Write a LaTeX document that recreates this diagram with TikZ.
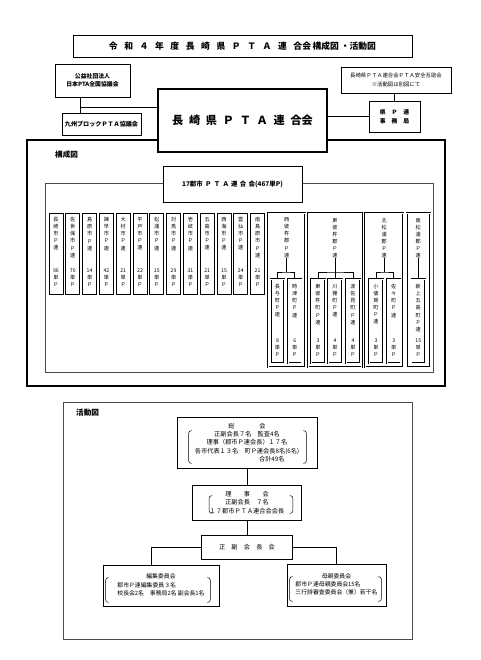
\documentclass[tikz,border=0pt]{standalone}
\usepackage{fontspec}
\setmainfont{Noto Sans CJK JP}
\usetikzlibrary{positioning}

\begin{document}
\begin{tikzpicture}[x=0.3mm,y=-0.3mm,
  box/.style={draw,line width=0.5pt,inner sep=0pt,align=center,font=\fontsize{5.3}{7}\selectfont},
  col/.style={draw,line width=0.6pt,inner sep=0pt,minimum width=4.2mm,minimum height=24.3mm,anchor=north},
  gun/.style={draw,double,double distance=0.5pt,line width=0.55pt,inner sep=0pt,anchor=north},
  vtxt/.style={inner sep=0pt,align=center,font=\fontsize{4.4}{6}\selectfont},
  midashi/.style={inner sep=0pt,anchor=west,font=\fontsize{6.5}{8}\selectfont\bfseries},
  line/.style={line width=0.7pt},
  brk/.style={line width=0.4pt,rounded corners=2pt}]
\useasboundingbox (0,0) rectangle (480,660);

% frames first, boxes lie on top of them
\draw[line width=1.6pt] (27,140) rectangle (445,386);
\draw[line width=0.5pt,black!70] (45,183) rectangle (433,372);
\draw[line width=0.5pt,black!70] (63,402) rectangle (412,639);
\node[midashi] (kz) at (55,155) {構成図};
\node[midashi] (kd) at (76,413) {活動図};

% title and top part
\node[draw,line width=0.6pt,minimum width=101.7mm,minimum height=6.6mm,inner sep=0pt,font=\fontsize{7.5}{9}\selectfont\bfseries] (ttl) at (242.5,46)
  {{\addfontfeature{LetterSpace=75}令和４年度長崎県ＰＴＡ連合}会\,構成図\ ・活動図};
\node[box,minimum width=22.5mm,minimum height=9.9mm,font=\fontsize{5}{6.8}\selectfont\bfseries] (jp) at (92.5,80.5) {公益社団法人\\日本PTA全国協議会};
\node[box,minimum width=23.7mm,minimum height=6.6mm,font=\fontsize{5.2}{7}\selectfont\bfseries] (ky) at (101.5,124) {九州ブロックＰＴＡ協議会};
\node[box,fill=white,line width=0.9pt,minimum width=50.7mm,minimum height=18.9mm,font=\fontsize{9.5}{11}\selectfont\bfseries] (mn) at (242.5,120.5)
  {{\addfontfeature{LetterSpace=52}長崎県ＰＴＡ連合}会};
\node[box,minimum width=33mm,minimum height=7.8mm,font=\fontsize{4.6}{7}\selectfont] (az) at (396,80) {長崎県ＰＴＡ連合会ＰＴＡ安全互助会\\※活動図は別図にて};
\node[box,minimum width=15.3mm,minimum height=9.3mm,font=\fontsize{5}{7.6}\selectfont\bfseries] (jm) at (394.5,116.5) {県　Ｐ　連\\事　務　局};
\coordinate (jn) at (80,107);
\draw[line] (jp.south -| jn) -- (ky.north -| jn);
\draw[line] (jn) -- (jn -| mn.west);
\draw[line] (az.south -| jm.north) -- (jm.north);
\draw[line] (jm.west) -- (jm.west -| mn.east);

% 構成図
\node[box,fill=white,minimum width=41.7mm,minimum height=10.8mm,font=\fontsize{5.5}{7}\selectfont\bfseries] (zg) at (232.5,184)
  {17郡{\addfontfeature{LetterSpace=35}市ＰＴＡ連合会}(467単P)};
\foreach \nm/\num [count=\i from 0] in {長\\崎/96,佐\\世\\保/70,島\\原/14,諫\\早/42,大\\村/21,平\\戸/22,松\\浦/15,対\\馬/29,壱\\岐/31,五\\島/21,西\\海/15,雲\\仙/24,南\\島\\原/21}{
  \node[col] (c\i) at ({56+16.8*\i},213) {};
  \node[vtxt,below=1.3mm of c\i.north] (n\i) {\nm\\市\\Ｐ\\連};
  \node[vtxt,above=2.4mm of c\i.south] (k\i) {\num\\単\\Ｐ};
}
\node[gun,minimum width=11mm,minimum height=46.2mm] (g1) at (286.7,213) {};
\node[gun,minimum width=16mm,minimum height=46.2mm] (g2) at (335,213) {};
\node[gun,minimum width=11.5mm,minimum height=46.2mm] (g3) at (384.2,213) {};
\node[gun,minimum width=7mm,minimum height=46.2mm] (g4) at (418.3,213) {};
\node[vtxt,below=1.4mm of g1.north] (l1) {西\\彼\\杵\\郡\\Ｐ\\連};
\node[vtxt,below=1.4mm of g2.north] (l2) {東\\彼\\杵\\郡\\Ｐ\\連};
\node[vtxt,below=1.4mm of g3.north] (l3) {北\\松\\浦\\郡\\Ｐ\\連};
\node[vtxt,below=1.4mm of g4.north] (l4) {南\\松\\浦\\郡\\Ｐ\\連};
\foreach \nm/\num/\x [count=\i] in {長\\与/8/277.5,時\\津/6/294.7,東\\彼\\杵/3/318,川\\棚/4/335,波\\佐\\見/4/353,小\\値\\賀/3/376,佐\\々/3/393.7,新\\上\\五\\島/15/418.3}{
  \node[gun,minimum width=4.1mm,minimum height=25.2mm] (t\i) at (\x,279) {};
  \node[vtxt,below=1.6mm of t\i.north] (tn\i) {\nm\\町\\Ｐ\\連};
  \node[vtxt,above=2.2mm of t\i.south] (tk\i) {\num\\単\\Ｐ};
}
\coordinate (j1) at (286.7,272);
\coordinate (j2) at (335,272);
\coordinate (j3) at (384.2,272);
\draw[line] (l1.south) -- (j1);
\draw[line] (t1.north) |- (j1) -| (t2.north);
\draw[line] (l2.south) -- (j2);
\draw[line] (t3.north) |- (j2) -| (t5.north);
\draw[line] (j2) -- (t4.north);
\draw[line] (l3.south) -- (j3);
\draw[line] (t6.north) |- (j3) -| (t7.north);
\draw[line] (l4.south) -- (t8.north);

% 活動図
\node[box,minimum width=42mm,minimum height=15.3mm] (sk) at (247,442.5)
  {総　　　　会\\正副会長７名　監査4名\\理事（郡市Ｐ連会長）１７名\\各市代表１３名　町Ｐ連会長8名(6名)\\\hspace*{8em}合計49名};
\node[box,minimum width=32.7mm,minimum height=10.5mm] (rj) at (247,502.5) {理　　事　　会\\正副会長　７名\\１７郡市ＰＴＡ連合会会長};
\node[box,minimum width=27.3mm,minimum height=7.2mm] (sf) at (247,547) {正　副　会　長　会};
\node[box,minimum width=34.8mm,minimum height=12.3mm,font=\fontsize{5}{7}\selectfont] (hs) at (161,585.5)
  {\begin{tabular}{@{}l@{}}\multicolumn{1}{@{}c@{}}{編集委員会}\\郡市Ｐ連編集委員３名\\校長会2名　事務局2名 副会長1名\end{tabular}};
\node[box,minimum width=29.7mm,minimum height=12.6mm,font=\fontsize{5}{7}\selectfont] (hh) at (336.5,585)
  {\begin{tabular}{@{}l@{}}\multicolumn{1}{@{}c@{}}{母親委員会}\\郡市Ｐ連母親委員会15名\\三行詩審査委員会（兼）若干名\end{tabular}};
\draw[line] (sk) -- (rj);
\draw[line] (rj) -- (sf);
\draw[line] (sf.west) -| ([xshift=-3mm]hs.north);
\draw[line] (sf.east) -| (hh.north);
\draw[brk] ([shift={(15,14)}]sk.north west) -| ([shift={(12,-5)}]sk.south west) -- ++(3,0);
\draw[brk] ([shift={(-14,14)}]sk.north east) -| ([shift={(-11,-5)}]sk.south east) -- ++(-3,0);
\draw[brk] ([shift={(20,11)}]rj.north west) -| ([shift={(17,-7)}]rj.south west) -- ++(3,0);
\draw[brk] ([shift={(-12,11)}]rj.north east) -| ([shift={(-9,-7)}]rj.south east) -- ++(-3,0);
\draw[brk] ([shift={(6,13)}]hs.north west) -| ([shift={(3,-4)}]hs.south west) -- ++(3,0);
\draw[brk] ([shift={(-12,13)}]hs.north east) -| ([shift={(-9,-4)}]hs.south east) -- ++(-3,0);
\draw[brk] ([shift={(6,13)}]hh.north west) -| ([shift={(3,-5)}]hh.south west) -- ++(3,0);
\draw[brk] ([shift={(-8,13)}]hh.north east) -| ([shift={(-5,-5)}]hh.south east) -- ++(-3,0);
\end{tikzpicture}
\end{document}
